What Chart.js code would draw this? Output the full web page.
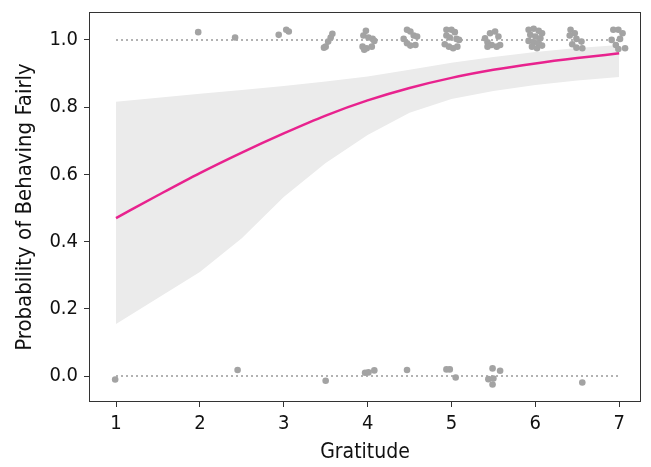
<!DOCTYPE html>
<html><head><meta charset="utf-8">
<script src="https://cdn.jsdelivr.net/npm/chart.js@4/dist/chart.umd.min.js"></script>
<style>html,body{margin:0;padding:0;background:#fff}#wrap{width:651px;height:467px;position:relative}</style>
</head><body><div id="wrap"><canvas id="c"></canvas></div>
<script>
// ---- data ----
const curveX   = [1, 1.5, 2, 2.5, 3, 3.5, 4, 4.5, 5, 5.5, 6, 6.5, 7];
const fitProb  = [0.470, 0.538, 0.604, 0.665, 0.722, 0.775, 0.820, 0.857, 0.887, 0.911, 0.930, 0.946, 0.960];
const ciLower  = [0.155, 0.232, 0.310, 0.410, 0.533, 0.634, 0.717, 0.783, 0.824, 0.848, 0.866, 0.879, 0.890];
const ciUpper  = [0.816, 0.828, 0.840, 0.851, 0.863, 0.876, 0.891, 0.911, 0.932, 0.949, 0.964, 0.976, 0.985];

const fairX = [1.98, 2.42, 2.94, 3.03, 3.06,
  3.58, 3.56, 3.53, 3.48, 3.50,
  3.98, 3.95, 4.01, 4.06, 4.08, 3.94, 3.99, 4.05, 3.96,
  4.47, 4.51, 4.55, 4.59, 4.43, 4.47, 4.51, 4.57,
  4.94, 5.00, 5.04, 4.94, 4.98, 5.06, 5.09, 4.92, 4.97, 5.02, 5.07,
  5.46, 5.52, 5.56, 5.40, 5.43, 5.48, 5.54, 5.58, 5.43,
  5.92, 5.98, 6.04, 6.08, 5.94, 6.00, 6.06, 5.92, 5.98, 6.04, 5.96, 6.02, 6.08,
  6.42, 6.47, 6.41, 6.49, 6.55, 6.44, 6.49, 6.56,
  6.93, 6.99, 7.04, 7.01, 6.91, 6.96, 6.99, 7.07];
const fairY = [1.023, 1.007, 1.015, 1.030, 1.025,
  1.018, 1.007, 0.995, 0.977, 0.980,
  1.027, 1.013, 1.007, 1.003, 0.997, 0.980, 0.975, 0.980, 0.971,
  1.030, 1.025, 1.013, 1.010, 1.003, 0.990, 0.983, 0.985,
  1.030, 1.030, 1.023, 1.013, 1.007, 1.003, 1.000, 0.987, 0.980, 0.975, 0.980,
  1.020, 1.025, 1.010, 1.005, 0.993, 0.985, 0.980, 0.985, 0.980,
  1.030, 1.033, 1.027, 1.020, 1.015, 1.010, 1.005, 0.997, 0.993, 0.990, 0.980, 0.975, 0.983,
  1.030, 1.020, 1.013, 1.003, 0.995, 0.987, 0.977, 0.975,
  1.030, 1.030, 1.020, 1.003, 1.000, 0.985, 0.973, 0.975];

const unfairX = [0.99, 2.45, 3.50, 3.97, 4.01, 4.08, 4.47, 4.94, 4.98, 5.05, 5.49, 5.58, 5.44, 5.50, 5.49, 6.56];
const unfairY = [-0.010, 0.018, -0.014, 0.010, 0.011, 0.017, 0.018, 0.020, 0.020, -0.004, 0.023, 0.016, -0.009, -0.007, -0.025, -0.019];

const refX  = [1, 7];
const refY1 = [1, 1];
const refY0 = [0, 0];

const xTicks = [1, 2, 3, 4, 5, 6, 7];
const yTicks = [0, 0.2, 0.4, 0.6, 0.8, 1.0];

// ---- build chart ----
const pts = (xs, ys) => xs.map((x, i) => ({x, y: ys[i]}));
const FONT = "'DejaVu Sans Condensed', 'Liberation Sans', sans-serif";

const boxPlugin = {
  id: 'box',
  afterDraw(chart) {
    const {ctx, chartArea: a} = chart;
    ctx.save();
    ctx.strokeStyle = '#333';
    ctx.lineWidth = 1;
    ctx.strokeRect(Math.round(a.left) + 0.5, Math.round(a.top) + 0.5,
                   Math.round(a.right - a.left) - 1, Math.round(a.bottom - a.top) - 1);
    ctx.restore();
  }
};

new Chart(document.getElementById('c'), {
  type: 'scatter',
  data: {
    datasets: [
      {data: pts(fairX, fairY), backgroundColor: '#a3a3a3', borderWidth: 0, pointRadius: 3.3, order: 0},
      {data: pts(unfairX, unfairY), backgroundColor: '#a3a3a3', borderWidth: 0, pointRadius: 3.3, order: 0},
      {type: 'line', data: pts(curveX, fitProb), borderColor: '#e8228e', borderWidth: 2.5,
        pointRadius: 0, cubicInterpolationMode: 'monotone', fill: false, order: 1},
      {type: 'line', data: pts(curveX, ciUpper), borderWidth: 0, borderColor: 'rgba(0,0,0,0)',
        pointRadius: 0, fill: {target: 4}, backgroundColor: '#ebebeb', order: 2},
      {type: 'line', data: pts(curveX, ciLower), borderWidth: 0, borderColor: 'rgba(0,0,0,0)',
        pointRadius: 0, fill: false, order: 3},
      {type: 'line', data: pts(refX, refY1), borderColor: '#999', borderWidth: 1.5, borderDash: [2, 3],
        pointRadius: 0, fill: false, order: 4},
      {type: 'line', data: pts(refX, refY0), borderColor: '#999', borderWidth: 1.5, borderDash: [2, 3],
        pointRadius: 0, fill: false, order: 4}
    ]
  },
  options: {
    responsive: true,
    maintainAspectRatio: false,
    animation: false,
    devicePixelRatio: 1,
    layout: {padding: {top: 12, right: 10, left: 0, bottom: 0}},
    plugins: {legend: {display: false}, tooltip: {enabled: false}},
    scales: {
      x: {
        type: 'linear', min: 0.678, max: 7.26,
        afterBuildTicks: s => { s.ticks = xTicks.map(v => ({value: v})); },
        afterFit: s => { s.height = 65; s.paddingLeft = 0; s.paddingRight = 0; },
        grid: {drawOnChartArea: false, drawTicks: true, tickLength: 5, tickColor: '#333', tickWidth: 1},
        border: {display: false},
        ticks: {color: '#111', padding: 5, font: {family: FONT, size: 20}, callback: v => String(v)},
        title: {display: true, text: 'Gratitude', color: '#111', padding: {top: 0, bottom: 2},
          font: {family: FONT, size: 21}}
      },
      y: {
        type: 'linear', min: -0.077, max: 1.083,
        afterBuildTicks: s => { s.ticks = yTicks.map(v => ({value: v})); },
        afterFit: s => { s.width = 89; s.paddingTop = 0; s.paddingBottom = 0; },
        grid: {drawOnChartArea: false, drawTicks: true, tickLength: 5, tickColor: '#333', tickWidth: 1},
        border: {display: false},
        ticks: {color: '#111', padding: 6, font: {family: FONT, size: 20}, callback: v => v.toFixed(1)},
        title: {display: true, text: 'Probability of Behaving Fairly', color: '#111', padding: {top: 12, bottom: 0},
          font: {family: FONT, size: 22}}
      }
    }
  },
  plugins: [boxPlugin]
});
</script>
</body></html>
